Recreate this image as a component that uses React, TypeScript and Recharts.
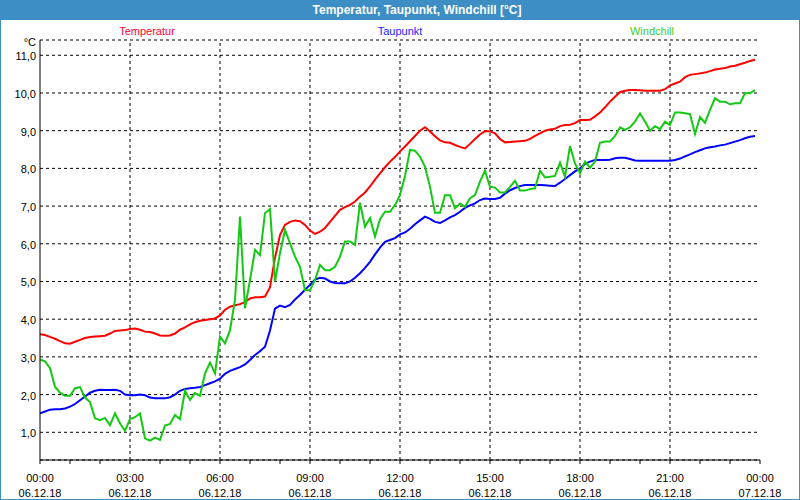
import { LineChart, Line, XAxis, YAxis, CartesianGrid, ReferenceLine } from 'recharts';

// 10-minute readings, 06.12.18 00:00 .. 23:50
const temperatur = [
  3.60, 3.58, 3.53, 3.48, 3.42, 3.36, 3.35, 3.40, 3.45, 3.50,
  3.53, 3.54, 3.55, 3.56, 3.62, 3.69, 3.70, 3.71, 3.74, 3.75,
  3.72, 3.67, 3.66, 3.62, 3.57, 3.56, 3.57, 3.62, 3.72, 3.78,
  3.86, 3.92, 3.96, 3.98, 4.00, 4.02, 4.10, 4.25, 4.33, 4.37,
  4.40, 4.45, 4.55, 4.58, 4.58, 4.60, 4.85, 5.63, 6.23, 6.50,
  6.58, 6.62, 6.60, 6.50, 6.35, 6.26, 6.32, 6.42, 6.58, 6.74,
  6.90, 6.97, 7.03, 7.12, 7.25, 7.36, 7.52, 7.70, 7.87, 8.03,
  8.18, 8.30, 8.45, 8.58, 8.72, 8.86, 9.00, 9.09, 8.98, 8.85,
  8.74, 8.69, 8.68, 8.62, 8.57, 8.53, 8.65, 8.78, 8.90, 8.99,
  8.98, 8.93, 8.78, 8.69, 8.70, 8.71, 8.72, 8.73, 8.78, 8.86,
  8.93, 9.00, 9.03, 9.05, 9.12, 9.15, 9.16, 9.20, 9.28, 9.28,
  9.29, 9.38, 9.48, 9.62, 9.77, 9.90, 10.02, 10.06, 10.08, 10.08,
  10.07, 10.06, 10.06, 10.06, 10.06, 10.10, 10.20, 10.25, 10.30, 10.42,
  10.48, 10.50, 10.52, 10.54, 10.58, 10.62, 10.64, 10.66, 10.70, 10.72,
  10.76, 10.80, 10.85, 10.88,
];

const taupunkt = [
  1.50, 1.55, 1.60, 1.61, 1.61, 1.63, 1.68, 1.75, 1.85, 1.95,
  2.05, 2.10, 2.13, 2.12, 2.12, 2.13, 2.10, 2.00, 1.98, 1.98,
  2.00, 1.98, 1.92, 1.90, 1.90, 1.90, 1.93, 2.00, 2.10, 2.15,
  2.17, 2.18, 2.20, 2.25, 2.30, 2.35, 2.42, 2.55, 2.63, 2.68,
  2.73, 2.80, 2.92, 3.05, 3.15, 3.27, 3.70, 4.28, 4.36, 4.32,
  4.38, 4.52, 4.64, 4.78, 4.91, 5.05, 5.10, 5.08, 5.00, 4.96,
  4.95, 4.95, 5.00, 5.10, 5.22, 5.36, 5.52, 5.72, 5.90, 6.05,
  6.10, 6.15, 6.25, 6.30, 6.40, 6.52, 6.62, 6.72, 6.66, 6.58,
  6.55, 6.62, 6.70, 6.76, 6.85, 6.95, 7.02, 7.07, 7.16, 7.20,
  7.19, 7.19, 7.22, 7.33, 7.42, 7.48, 7.53, 7.56, 7.56, 7.56,
  7.56, 7.55, 7.54, 7.53, 7.62, 7.72, 7.82, 7.92, 8.00, 8.12,
  8.18, 8.22, 8.22, 8.22, 8.23, 8.27, 8.28, 8.28, 8.25, 8.21,
  8.20, 8.20, 8.20, 8.20, 8.20, 8.20, 8.20, 8.22, 8.26, 8.32,
  8.37, 8.43, 8.48, 8.53, 8.56, 8.58, 8.61, 8.63, 8.67, 8.71,
  8.75, 8.80, 8.84, 8.86,
];

const windchill = [
  2.93, 2.88, 2.70, 2.21, 2.05, 1.97, 1.97, 2.17, 2.20, 1.92,
  1.80, 1.37, 1.32, 1.38, 1.19, 1.50, 1.24, 1.04, 1.35, 1.40,
  1.50, 0.84, 0.78, 0.86, 0.80, 1.18, 1.22, 1.46, 1.35, 2.10,
  1.86, 2.04, 1.97, 2.56, 2.85, 2.56, 3.54, 3.36, 3.71, 4.51,
  6.72, 4.29, 5.04, 5.84, 5.70, 6.81, 6.92, 5.00, 5.75, 6.37,
  6.01, 5.66, 5.39, 4.77, 4.77, 5.04, 5.44, 5.30, 5.30, 5.39,
  5.66, 6.06, 6.06, 5.97, 7.09, 6.45, 6.68, 6.19, 6.65, 6.85,
  6.85, 7.03, 7.29, 7.80, 8.49, 8.47, 8.31, 8.05, 7.51, 6.82,
  6.82, 7.29, 7.29, 6.94, 7.07, 6.98, 7.21, 7.29, 7.65, 7.94,
  7.51, 7.49, 7.36, 7.36, 7.51, 7.67, 7.41, 7.41, 7.45, 7.47,
  7.94, 7.76, 7.78, 7.80, 8.15, 7.78, 8.59, 8.13, 7.87, 8.18,
  8.02, 8.18, 8.68, 8.71, 8.71, 8.86, 9.09, 9.02, 9.09, 9.24,
  9.46, 9.24, 9.00, 9.12, 9.04, 9.24, 9.15, 9.48, 9.48, 9.46,
  9.44, 8.91, 9.36, 9.21, 9.55, 9.86, 9.77, 9.77, 9.70, 9.73,
  9.73, 9.99, 9.99, 10.08,
];

const seriesNames = ['Temperatur', 'Taupunkt', 'Windchill'];
const timeLabels = ['00:00', '03:00', '06:00', '09:00', '12:00', '15:00', '18:00', '21:00', '00:00'];
const dateLabels = ['06.12.18', '06.12.18', '06.12.18', '06.12.18', '06.12.18', '06.12.18', '06.12.18', '06.12.18', '07.12.18'];
const yTicks = [1, 2, 3, 4, 5, 6, 7, 8, 9, 10, 11];

const STEP = 10; // minutes between readings
const hourTicks = Array.from({ length: 25 }, (_, i) => i * 60);
const gridHours = [180, 360, 540, 720, 900, 1080, 1260];

const data = temperatur.map((t, i) => ({
  min: i * STEP,
  temp: t,
  dew: taupunkt[i],
  wind: windchill[i],
}));

const FONT = '"Liberation Sans", Arial, sans-serif';

function TimeTick(props: any) {
  const { x, y, payload } = props;
  const v = payload.value as number;
  if (v % 180 !== 0) return null;
  const i = v / 180;
  return (
    <g>
      <text x={x} y={y + 16} textAnchor="middle" fontSize={11} fill="#000">{timeLabels[i]}</text>
      <text x={x} y={y + 31} textAnchor="middle" fontSize={11} fill="#000">{dateLabels[i]}</text>
    </g>
  );
}

function ValueTick(props: any) {
  const { x, y, payload } = props;
  return (
    <text x={x} y={y + 5} textAnchor="end" fontSize={11} fill="#000">
      {(payload.value as number).toFixed(1).replace('.', ',')}
    </text>
  );
}

export default function App() {
  return (
    <div style={{ position: 'absolute', left: 0, top: 0, width: 800, height: 500, background: '#fff', fontFamily: FONT, overflow: 'hidden' }}>
      <div style={{ height: 20, background: '#3c8ec4', color: '#fff', fontWeight: 'bold', fontSize: 12, lineHeight: '20px', textAlign: 'center', paddingLeft: 34 }}>
        Temperatur, Taupunkt, Windchill [°C]
      </div>
      <div style={{ position: 'absolute', top: 25, left: 147, transform: 'translateX(-50%)', fontSize: 11, lineHeight: '12px', color: '#ff0033' }}>{seriesNames[0]}</div>
      <div style={{ position: 'absolute', top: 25, left: 400, transform: 'translateX(-50%)', fontSize: 11, lineHeight: '12px', color: '#2222ff' }}>{seriesNames[1]}</div>
      <div style={{ position: 'absolute', top: 25, left: 652, transform: 'translateX(-50%)', fontSize: 11, lineHeight: '12px', color: '#44cc22' }}>{seriesNames[2]}</div>
      <LineChart width={800} height={480} data={data} margin={{ top: 20, right: 40, left: 0, bottom: 0 }}>
        <CartesianGrid vertical={false} stroke="#000" strokeDasharray="3 3" />
        {gridHours.map(h => (
          <ReferenceLine key={h} x={h} stroke="#000" strokeDasharray="3 3" />
        ))}
        <XAxis
          dataKey="min"
          type="number"
          domain={[0, 1440]}
          ticks={hourTicks}
          interval={0}
          height={40}
          tickSize={4}
          tick={<TimeTick />}
          axisLine={{ stroke: '#000' }}
          tickLine={{ stroke: '#000' }}
        />
        <XAxis xAxisId="top" orientation="top" dataKey="min" type="number" domain={[0, 1440]} height={0} tick={false} tickLine={false} axisLine={{ stroke: '#000' }} />
        <YAxis
          type="number"
          domain={[0.265, 11.405]}
          ticks={yTicks}
          width={40}
          tickSize={2}
          tickMargin={2}
          tickLine={false}
          axisLine={{ stroke: '#000' }}
          tick={<ValueTick />}
          label={{ content: () => <text x={36} y={26} textAnchor="end" fontSize={11} fill="#000">°C</text> }}
        />
        <YAxis yAxisId="right" orientation="right" type="number" domain={[0.265, 11.405]} width={0} tick={false} tickLine={false} axisLine={{ stroke: '#000' }} />
        <Line type="linear" dataKey="temp" stroke="#ff0000" strokeWidth={2} dot={false} isAnimationActive={false} />
        <Line type="linear" dataKey="dew" stroke="#0000ff" strokeWidth={2} dot={false} isAnimationActive={false} />
        <Line type="linear" dataKey="wind" stroke="#14c814" strokeWidth={2} dot={false} isAnimationActive={false} />
      </LineChart>
      <div style={{ position: 'absolute', inset: 0, border: '1px solid #3c8ec4', pointerEvents: 'none' }} />
    </div>
  );
}
